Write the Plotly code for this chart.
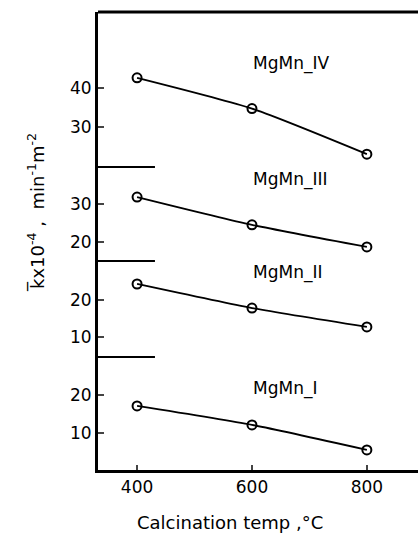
import plotly.graph_objects as go

temps = [400, 600, 800]
k_I = [17.1, 12.1, 5.5]
k_II = [24.3, 17.8, 12.7]
k_III = [31.8, 24.5, 18.7]
k_IV = [42.6, 34.7, 23.0]
labels = ["MgMn_I", "MgMn_II", "MgMn_III", "MgMn_IV"]
series = [k_I, k_II, k_III, k_IV]
ticks = [[10, 20], [10, 20], [20, 30], [30, 40]]
ranges = [[0.2, 30], [4.6, 30.5], [15, 39.7], [19.7, 59.5]]
domains = [[0, 0.2467], [0.2467, 0.4563], [0.4563, 0.6616], [0.6616, 1]]
label_y = [21.8, 27.3, 36.3, 46.4]

FONT = "DejaVu Sans"
fig = go.Figure()
axnames = ["y", "y2", "y3", "y4"]
for i, (vals, ax) in enumerate(zip(series, axnames)):
    fig.add_trace(go.Scatter(
        x=temps, y=vals, yaxis=ax, mode="lines+markers",
        line=dict(color="black", width=1.8, shape="spline", smoothing=0.6),
        marker=dict(symbol="circle-open", size=9, color="black", line=dict(width=2)),
        showlegend=False, cliponaxis=False))
    fig.add_annotation(x=598, y=label_y[i], xref="x", yref=ax, text=labels[i],
                       showarrow=False, xanchor="left", yanchor="middle",
                       font=dict(family=FONT, size=17, color="black"))

layout = dict(
    width=418, height=534,
    margin=dict(l=98, r=0, t=12, b=64),
    paper_bgcolor="white", plot_bgcolor="white",
    font=dict(family=FONT, size=17, color="black"),
    xaxis=dict(range=[332, 889], tickvals=temps, ticks="inside", ticklen=5, tickwidth=1.5,
               showline=True, linewidth=3, linecolor="black", showgrid=False,
               zeroline=False, anchor="y", tickfont=dict(size=17)),
)
for i, ax in enumerate(axnames):
    key = "yaxis" if i == 0 else f"yaxis{i+1}"
    layout[key] = dict(domain=domains[i], range=ranges[i], tickvals=ticks[i],
                       ticks="inside", ticklen=6, tickwidth=2, showline=True,
                       linewidth=3, linecolor="black", showgrid=False, zeroline=False,
                       anchor="x", tickfont=dict(size=17))
fig.update_layout(**layout)

# panel dividers and top frame
for d in domains[1:]:
    fig.add_shape(type="line", xref="paper", yref="paper", x0=0, x1=0.178,
                  y0=d[0], y1=d[0], line=dict(color="black", width=2))
fig.add_shape(type="line", xref="paper", yref="paper", x0=0, x1=1, y0=1, y1=1,
              line=dict(color="black", width=3))

fig.add_annotation(text="Calcination temp ,°C", xref="paper", yref="paper",
                   x=(230 - 98) / 320, y=-(522 - 470) / 458, showarrow=False,
                   xanchor="center", yanchor="middle",
                   font=dict(family=FONT, size=18, color="black"))
fig.add_annotation(text="k\u0305x10<sup>-4</sup> ,  min<sup>-1</sup>m<sup>-2</sup>",
                   xref="paper", yref="paper", x=(36 - 98) / 320, y=(470 - 213) / 458,
                   textangle=-90, showarrow=False, xanchor="center", yanchor="middle",
                   font=dict(family=FONT, size=18, color="black"))

fig.write_html("out.html")
